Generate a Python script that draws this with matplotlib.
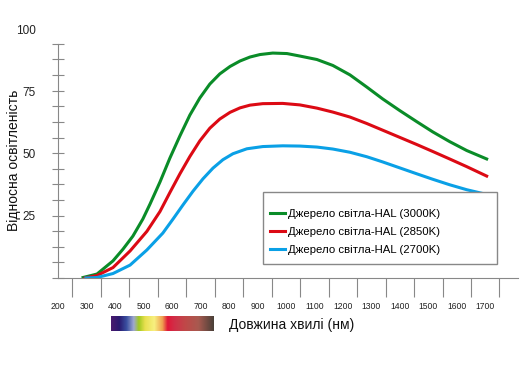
import matplotlib
matplotlib.use('Agg')
import matplotlib.pyplot as plt
import numpy as np
from matplotlib.colors import LinearSegmentedColormap
from matplotlib.patches import Rectangle

# wavelength (nm) / relative illuminance
nm_3000 = [288, 337, 393, 428, 463, 498, 523, 558, 593, 628, 663, 698, 733, 768, 804, 839,
           874, 909, 954, 1004, 1049, 1109, 1165, 1225, 1284, 1340, 1400, 1460, 1516, 1575,
           1635, 1705]
val_3000 = [0.2, 1.6, 6.9, 11.6, 16.9, 23.8, 29.8, 38.7, 48.4, 57.3, 65.7, 72.6, 78.2, 82.3,
            85.3, 87.5, 89.1, 90.1, 90.7, 90.5, 89.5, 88.1, 85.7, 81.9, 77.0, 72.2, 67.5, 63.0,
            58.9, 55.0, 51.4, 48.0]

nm_2850 = [295, 337, 393, 453, 512, 558, 593, 628, 663, 698, 733, 768, 804, 839, 874,
           919, 989, 1049, 1109, 1165, 1225, 1284, 1340, 1400, 1460, 1516, 1575, 1635, 1705]
val_2850 = [0.0, 1.0, 4.2, 10.9, 18.8, 26.8, 34.5, 42.0, 49.0, 55.3, 60.4, 64.1, 66.8, 68.6,
            69.7, 70.3, 70.4, 69.8, 68.5, 66.9, 64.9, 62.3, 59.6, 56.7, 53.8, 51.0, 48.0, 44.9,
            41.1]

nm_2700 = [298, 337, 393, 453, 512, 568, 604, 639, 674, 709, 744, 779, 814, 863, 919, 989,
           1049, 1109, 1165, 1225, 1284, 1340, 1400, 1460, 1516, 1575, 1635, 1705]
val_2700 = [0.0, 0.2, 1.8, 5.2, 11.3, 18.1, 23.8, 29.5, 35.0, 40.0, 44.3, 47.7, 50.1, 52.1,
            53.0, 53.3, 53.2, 52.8, 52.0, 50.7, 48.9, 46.8, 44.4, 42.0, 39.8, 37.6, 35.6, 33.7]

labels = ['Джерело світла-HAL (3000K)', 'Джерело світла-HAL (2850K)', 'Джерело світла-HAL (2700K)']
colors = ['#0a8c28', '#dc0a14', '#0aa0e6']

x_ticks = list(range(200, 1800, 100))
x_minor = list(range(250, 1800, 50))
y_ticks = [25, 50, 75, 100]

spectrum = ['#4a1a6e', '#2a1a70', '#3a50a0', '#a0a8d0', '#a0c820', '#e8e050', '#f8f080',
            '#f0a050', '#e01838', '#d03048', '#c04848', '#a85a50', '#4a4038']
spectrum_pos = [0.0, 0.08, 0.15, 0.22, 0.27, 0.33, 0.42, 0.50, 0.55, 0.62, 0.72, 0.85, 1.0]

plt.rcParams['font.family'] = ['Liberation Sans', 'DejaVu Sans']

fig = plt.figure(figsize=(5.31, 3.77), dpi=100)
ax = fig.add_axes([58 / 531, 99 / 377, 460 / 531, 248 / 377])

ax.plot(nm_3000, val_3000, color=colors[0], lw=2.2, label=labels[0], solid_joinstyle='round')
ax.plot(nm_2850, val_2850, color=colors[1], lw=2.2, label=labels[1], solid_joinstyle='round')
ax.plot(nm_2700, val_2700, color=colors[2], lw=2.2, label=labels[2], solid_joinstyle='round')

ax.set_xlim(200, 1815)
ax.set_ylim(0, 100)

for s in ['top', 'right']:
    ax.spines[s].set_visible(False)
ax.spines['left'].set_bounds(0, 94.4)
ax.spines['left'].set_color('#888888')
ax.spines['bottom'].set_color('#888888')

ax.set_xticks(x_ticks)
ax.set_xticklabels([str(t) for t in x_ticks], fontsize=6.2, color='#222222')
ax.set_xticks(x_minor, minor=True)
ax.tick_params(axis='x', which='major', length=0, pad=17)
ax.tick_params(axis='x', which='minor', length=14, direction='out', color='#888888', width=0.8)

ax.set_yticks(y_ticks)
ax.set_yticklabels([str(t) for t in y_ticks], fontsize=8.5, color='#222222')
ax.set_yticks(np.linspace(0, 94.4, 16), minor=True)
ax.tick_params(axis='y', which='major', length=0, pad=16)
ax.tick_params(axis='y', which='minor', length=9, direction='inout', color='#888888', width=0.8)

ax.set_ylabel('Відносна освітленість', fontsize=10, color='#111111')
ax.yaxis.set_label_coords(-0.080, 0.476)

# legend frame drawn separately so the box can be wider than its entries
ax.add_patch(Rectangle((0.4457, 0.0565), 0.5086, 0.2903, transform=ax.transAxes,
                       facecolor='white', edgecolor='#888888', lw=1.0, zorder=3))
leg = ax.legend(loc='upper left', bbox_to_anchor=(0.4609, 0.280), frameon=False,
                fontsize=8.2, handlelength=1.3, handletextpad=0.3, labelspacing=0.72,
                borderpad=0, borderaxespad=0)
leg.set_zorder(4)

fig.text(229 / 531, 1 - 325 / 377, 'Довжина хвилі (нм)', fontsize=10, va='center', ha='left',
         color='#111111')

cmap = LinearSegmentedColormap.from_list('spec', list(zip(spectrum_pos, spectrum)))
bar_ax = fig.add_axes([111 / 531, 1 - 331 / 377, 103 / 531, 15 / 377])
bar_ax.imshow(np.linspace(0, 1, 256)[None, :], aspect='auto', cmap=cmap)
bar_ax.axis('off')

fig.savefig('out.png', dpi=100)
